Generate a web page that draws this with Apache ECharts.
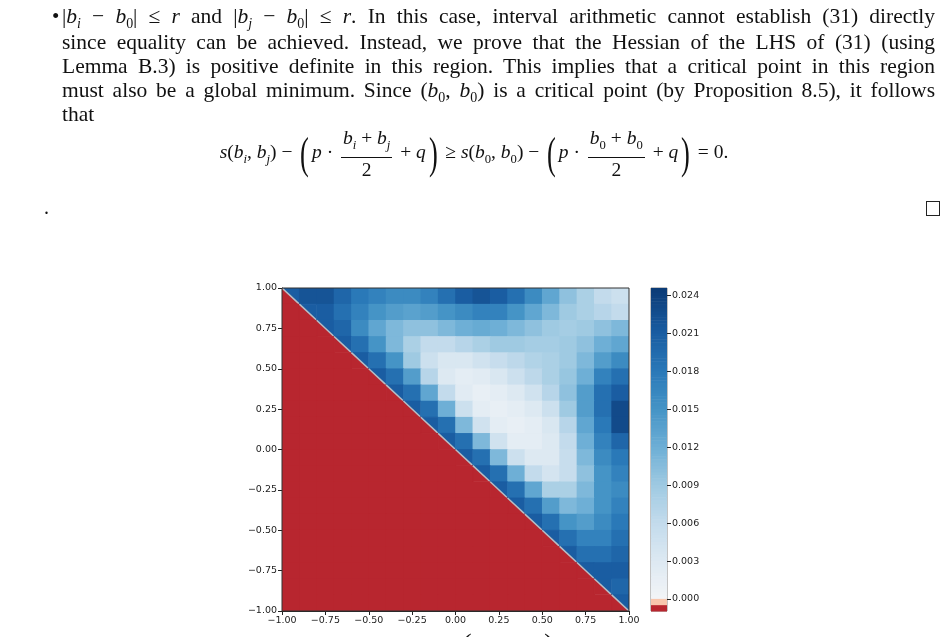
<!DOCTYPE html>
<html><head><meta charset="utf-8">
<script src="https://cdn.jsdelivr.net/npm/echarts@6/dist/echarts.min.js"></script>
<style>
body{margin:0;background:#fff;width:948px;height:637px;overflow:hidden;position:relative;font-family:"Liberation Serif","DejaVu Serif",serif;color:#111}
#chart{position:absolute;left:0;top:0;width:948px;height:637px}
.ln{position:absolute;left:62px;width:873px;font-size:21.5px;line-height:24px;text-align:justify;text-align-last:justify;white-space:nowrap}
i{font-style:italic}
sub{font-size:65%}
.fr{display:inline-flex;flex-direction:column;align-items:center;vertical-align:middle;margin:0 3px;line-height:24px}
.fr span:first-child{border-bottom:1px solid #111;padding:0 2px}
.big{font-size:44px;font-weight:100;vertical-align:middle;transform:scaleX(0.6);display:inline-block}
</style></head><body>
<div id="chart"></div>
<div style="position:absolute;left:52px;top:4px;font-size:21px">•</div>
<div class="ln" style="top:4px">|<i>b<sub>i</sub></i> − <i>b</i><sub>0</sub>| ≤ <i>r</i> and |<i>b<sub>j</sub></i> − <i>b</i><sub>0</sub>| ≤ <i>r</i>. In this case, interval arithmetic cannot establish (31) directly</div>
<div class="ln" style="top:30px">since equality can be achieved. Instead, we prove that the Hessian of the LHS of (31) (using</div>
<div class="ln" style="top:54px">Lemma B.3) is positive definite in this region. This implies that a critical point in this region</div>
<div class="ln" style="top:78px">must also be a global minimum. Since (<i>b</i><sub>0</sub>, <i>b</i><sub>0</sub>) is a critical point (by Proposition 8.5), it follows</div>
<div style="position:absolute;top:102px;left:62px;font-size:21.5px;line-height:24px">that</div>
<div style="position:absolute;top:126px;left:0;width:948px;text-align:center;font-size:19.5px;white-space:nowrap">
<i>s</i>(<i>b<sub>i</sub></i>, <i>b<sub>j</sub></i>) − <span class="big">(</span><i>p</i> · <span class="fr"><span><i>b<sub>i</sub></i> + <i>b<sub>j</sub></i></span><span>2</span></span> + <i>q</i><span class="big">)</span> ≥ <i>s</i>(<i>b</i><sub>0</sub>, <i>b</i><sub>0</sub>) − <span class="big">(</span><i>p</i> · <span class="fr"><span><i>b</i><sub>0</sub> + <i>b</i><sub>0</sub></span><span>2</span></span> + <i>q</i><span class="big">)</span> = 0.</div>
<div style="position:absolute;left:44px;top:196px;font-size:20px">.</div>
<div style="position:absolute;left:926px;top:201px;width:12px;height:13px;border:1px solid #222"></div>
<div style="position:absolute;top:627px;left:0;width:948px;text-align:center;font-size:17px;white-space:nowrap"><i>s</i>(<i>b<sub>i</sub></i>, <i>b<sub>j</sub></i>) − <span style="font-size:30px">(</span><i>p</i> · <span style="font-size:12px;vertical-align:8px"><i>b<sub>i</sub></i>+<i>b<sub>j</sub></i></span> + <i>q</i><span style="font-size:30px">)</span></div>
<script>
// Values in thousandths (×0.001). Row k: y = 0.95 - 0.1k, starting on the diagonal cell x = -0.95 + 0.1k.
const SCALE = 0.001;
const NEG = -0.0008;
const xCenters = [-0.95,-0.85,-0.75,-0.65,-0.55,-0.45,-0.35,-0.25,-0.15,-0.05,0.05,0.15,0.25,0.35,0.45,0.55,0.65,0.75,0.85,0.95];
const yCenters = [0.95,0.85,0.75,0.65,0.55,0.45,0.35,0.25,0.15,0.05,-0.05,-0.15,-0.25,-0.35,-0.45,-0.55,-0.65,-0.75,-0.85,-0.95];
const rows = [
 [21,22,22,20,18,17,16,16,17,19,21,22,21,19,16,13,10,8,6,5],
 [21,21,19,17,15,14,13.5,14,15,16,17,17,15,13,11,9,8,7,6],
 [21,20,16,13,11,10,10,11,12,12.5,12,11,10,9,8.5,9,10,11],
 [21,19,15,11,8,6,6,7,8,9,9,8.5,8.5,9,10,12,13],
 [21,19,15,9,5,3.5,3.5,4.5,5.5,6.5,7.5,8,9,11,14,16],
 [21,19,14,7,3,2,2.5,3.5,5,6.5,8,9.5,12,17,19],
 [21,19,13,6,2.5,1.5,2,3,4.5,7,10,14,19,21],
 [21,19,12,5,2,1.5,2,3,5,9,14,19,23],
 [21,19,11,4.5,2,1.5,2,3.5,7,13,18,23],
 [21,19,11,4.5,2,2,3,6,12,17,20],
 [21,19,11,5,3,3,5.5,11,16,18],
 [21,19,12,6,4,5.5,10,15,17],
 [21,19,13,8,8,11,15,16],
 [21,19,14,11,12,15,17],
 [21,19,15,14,16,18],
 [21,19,17,17,19],
 [21,19,19,20],
 [21,21,21],
 [21,20],
 [21]
];
const axisTicks = [-1,-0.75,-0.5,-0.25,0,0.25,0.5,0.75,1];
const cbarTicks = [0,0.003,0.006,0.009,0.012,0.015,0.018,0.021,0.024];
const cbarMin = -0.00095, cbarMax = 0.0246;

const stops = [[-0.00095,'#b8262f'],[-0.00047,'#b8262f'],[-0.000469,'#f8c6ad'],[-0.000001,'#f8c6ad'],[0,'#f3f5f7'],
 [0.003,'#dde9f2'],[0.006,'#c3dbec'],[0.009,'#9fcae2'],[0.012,'#6eafd6'],[0.015,'#4594c6'],[0.018,'#2a79b8'],[0.021,'#1a5da2'],[0.0246,'#0b3b76']];
function hex(c){return [1,3,5].map(i=>parseInt(c.substr(i,2),16));}
function colorOf(v){
  if(v<=stops[0][0]) return stops[0][1];
  for(let i=1;i<stops.length;i++){
    if(v<=stops[i][0]){const a=hex(stops[i-1][1]),b=hex(stops[i][1]);const t=(v-stops[i-1][0])/(stops[i][0]-stops[i-1][0]||1);
      return 'rgb('+a.map((x,k)=>Math.round(x+(b[k]-x)*t)).join(',')+')';}
  }
  return stops[stops.length-1][1];
}
const data=[];
yCenters.forEach((y,k)=>{xCenters.forEach((x,c)=>{
  let v, diag=0;
  if(c<k) v=NEG; else {v=rows[k][c-k]*SCALE; diag=(c===k)?1:0;}
  data.push([x,y,v,diag]);
});});
const bands=[];
for(let lo=cbarMin;lo<cbarMax-1e-9;lo+=0.00025){bands.push([lo,Math.min(lo+0.00025,cbarMax)]);}
const fmt=v=>v.toFixed(2).replace('-','\u2212');
const lab={fontFamily:'DejaVu Sans',fontSize:9.5,color:'#222'};
const line={show:true,onZero:false,lineStyle:{color:'#222'}};
const chart=echarts.init(document.getElementById('chart'));
chart.setOption({
  animation:false,
  grid:[{left:282,top:288,width:347,height:323,show:true,borderColor:'#333',borderWidth:1,z:10,backgroundColor:'transparent'},{left:651,top:288,width:16,height:323,show:true,borderColor:'#888',borderWidth:1}],
  xAxis:[{type:'value',min:-1,max:1,interval:0.25,gridIndex:0,splitLine:{show:false},axisLine:line,axisTick:{show:true,length:4,lineStyle:{color:'#222'}},axisLabel:Object.assign({formatter:fmt,margin:5},lab)},
         {type:'value',min:0,max:1,gridIndex:1,show:false}],
  yAxis:[{type:'value',min:-1,max:1,interval:0.25,gridIndex:0,splitLine:{show:false},axisLine:line,axisTick:{show:true,length:4,lineStyle:{color:'#222'}},axisLabel:Object.assign({formatter:fmt,margin:5},lab)},
         {type:'value',min:cbarMin,max:cbarMax,gridIndex:1,position:'right',splitLine:{show:false},axisLine:{show:false,onZero:false},axisTick:{show:true,length:4,lineStyle:{color:'#222'},customValues:cbarTicks},axisLabel:Object.assign({customValues:cbarTicks,formatter:v=>v.toFixed(3),margin:5},lab)}],
  series:[
    {type:'custom',xAxisIndex:0,yAxisIndex:0,data:data,clip:true,
     renderItem:function(params,api){
       const x=api.value(0),y=api.value(1),v=api.value(2),d=api.value(3);
       const tl=api.coord([x-0.05,y+0.05]),br=api.coord([x+0.05,y-0.05]);
       const tr=[br[0],tl[1]],bl=[tl[0],br[1]];
       if(d){
         return {type:'group',children:[
           {type:'polygon',shape:{points:[tl,bl,br]},style:{fill:colorOf(NEG),stroke:colorOf(NEG),lineWidth:0.8}},
           {type:'polygon',shape:{points:[tl,tr,br]},style:{fill:colorOf(v),stroke:colorOf(v),lineWidth:0.8}},
           {type:'line',shape:{x1:tl[0],y1:tl[1],x2:br[0],y2:br[1]},style:{stroke:'#b9bec4',lineWidth:1.5}}]};
       }
       return {type:'rect',shape:{x:tl[0]-0.3,y:tl[1]-0.3,width:br[0]-tl[0]+0.9,height:br[1]-tl[1]+0.9},style:{fill:colorOf(v)}};
     }},
    {type:'custom',xAxisIndex:1,yAxisIndex:1,data:bands,
     renderItem:function(params,api){
       const lo=api.value(0),hi=api.value(1);
       const a=api.coord([0,hi]),b=api.coord([1,lo]);
       return {type:'rect',shape:{x:a[0],y:a[1],width:b[0]-a[0],height:b[1]-a[1]+0.5},style:{fill:colorOf((lo+hi)/2)}};
     }}
  ]
});
</script></body></html>
